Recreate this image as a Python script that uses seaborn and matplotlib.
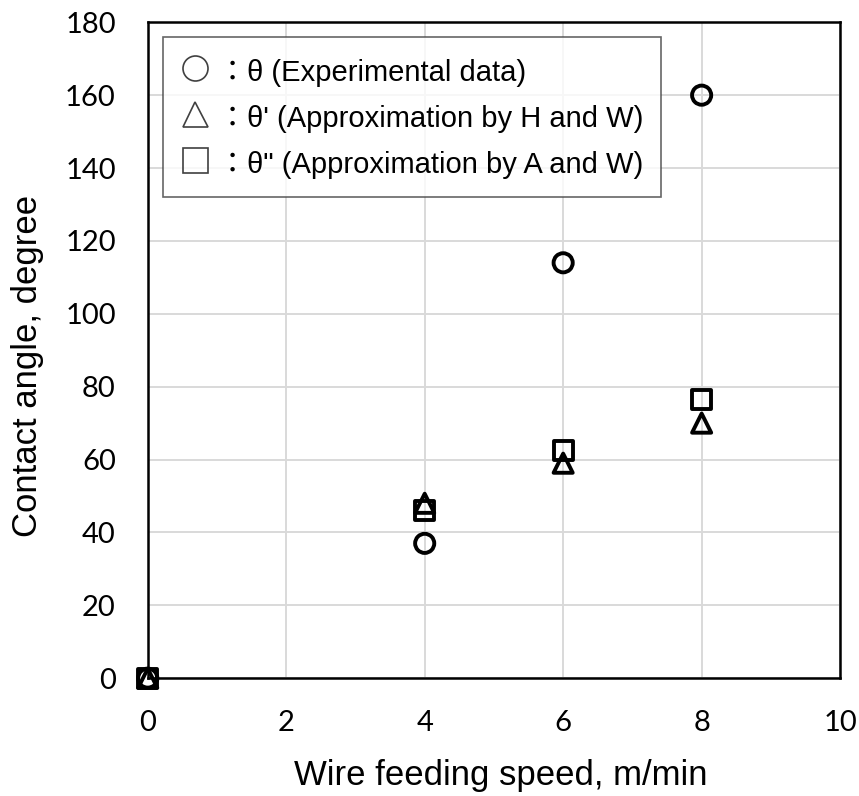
import seaborn as sns
import matplotlib.pyplot as plt
from matplotlib.lines import Line2D
import pandas as pd

speed = [0, 4, 6, 8]
theta_exp = [0, 37, 114, 160]
theta_hw = [0, 48, 59, 70]
theta_aw = [0, 46, 62.5, 76.5]

labels = ["θ (Experimental data)", "θ' (Approximation by H and W)", "θ\" (Approximation by A and W)"]
markers = ["o", "^", "s"]

if __name__ == "__main__":
    sns.set_style("whitegrid")
    plt.rcParams["font.family"] = ["Liberation Sans", "Noto Sans CJK JP", "DejaVu Sans"]
    plt.rcParams["text.color"] = "black"
    plt.rcParams["axes.labelcolor"] = "black"
    plt.rcParams["xtick.color"] = "black"
    plt.rcParams["ytick.color"] = "black"
    fig = plt.figure(figsize=(8.59, 7.96), dpi=100)
    ax = fig.add_axes([0.172, 0.148, 0.806, 0.824])

    df = pd.DataFrame({"speed": speed * 3,
                       "angle": theta_exp + theta_hw + theta_aw,
                       "series": sum([[l] * len(speed) for l in labels], [])})
    for lab, m in zip(labels, markers):
        sub = df[df["series"] == lab]
        sns.scatterplot(x="speed", y="angle", data=sub, marker=m, s=190,
                        facecolor="none", edgecolor="black", linewidth=2.8,
                        ax=ax, legend=False, zorder=3, clip_on=False)

    ax.set_xlim(0, 10)
    ax.set_ylim(0, 180)
    ax.set_xticks(range(0, 11, 2))
    ax.set_yticks(range(0, 181, 20))
    ax.tick_params(length=0, pad=23)
    for t in ax.get_xticklabels() + ax.get_yticklabels():
        t.set_fontfamily("Lato")
        t.set_fontsize(21)
    ax.grid(color="#d9d9d9", linewidth=1.4)
    for sp in ax.spines.values():
        sp.set_color("black")
        sp.set_linewidth(1.8)
    ax.set_xlabel("Wire feeding speed, m/min", fontsize=25)
    ax.set_ylabel("Contact angle, degree", fontsize=25)
    ax.xaxis.set_label_coords(0.51, -0.123)
    ax.yaxis.set_label_coords(-0.15, 0.476)

    handles = [Line2D([], [], linestyle="none", marker=m, markersize=18,
                      markerfacecolor="none", markeredgecolor="#404040",
                      markeredgewidth=1.2) for m in markers]
    leg = ax.legend(handles, ["：" + l for l in labels], loc="upper left",
                    bbox_to_anchor=(0.022, 0.977), fontsize=21, frameon=True,
                    fancybox=False, edgecolor="#404040", handlelength=1.0,
                    handleheight=1.3, handletextpad=0.3, borderpad=0.6,
                    labelspacing=0.5, borderaxespad=0)
    leg.get_frame().set_linewidth(1.2)
    fig.savefig("out.png", dpi=100)
